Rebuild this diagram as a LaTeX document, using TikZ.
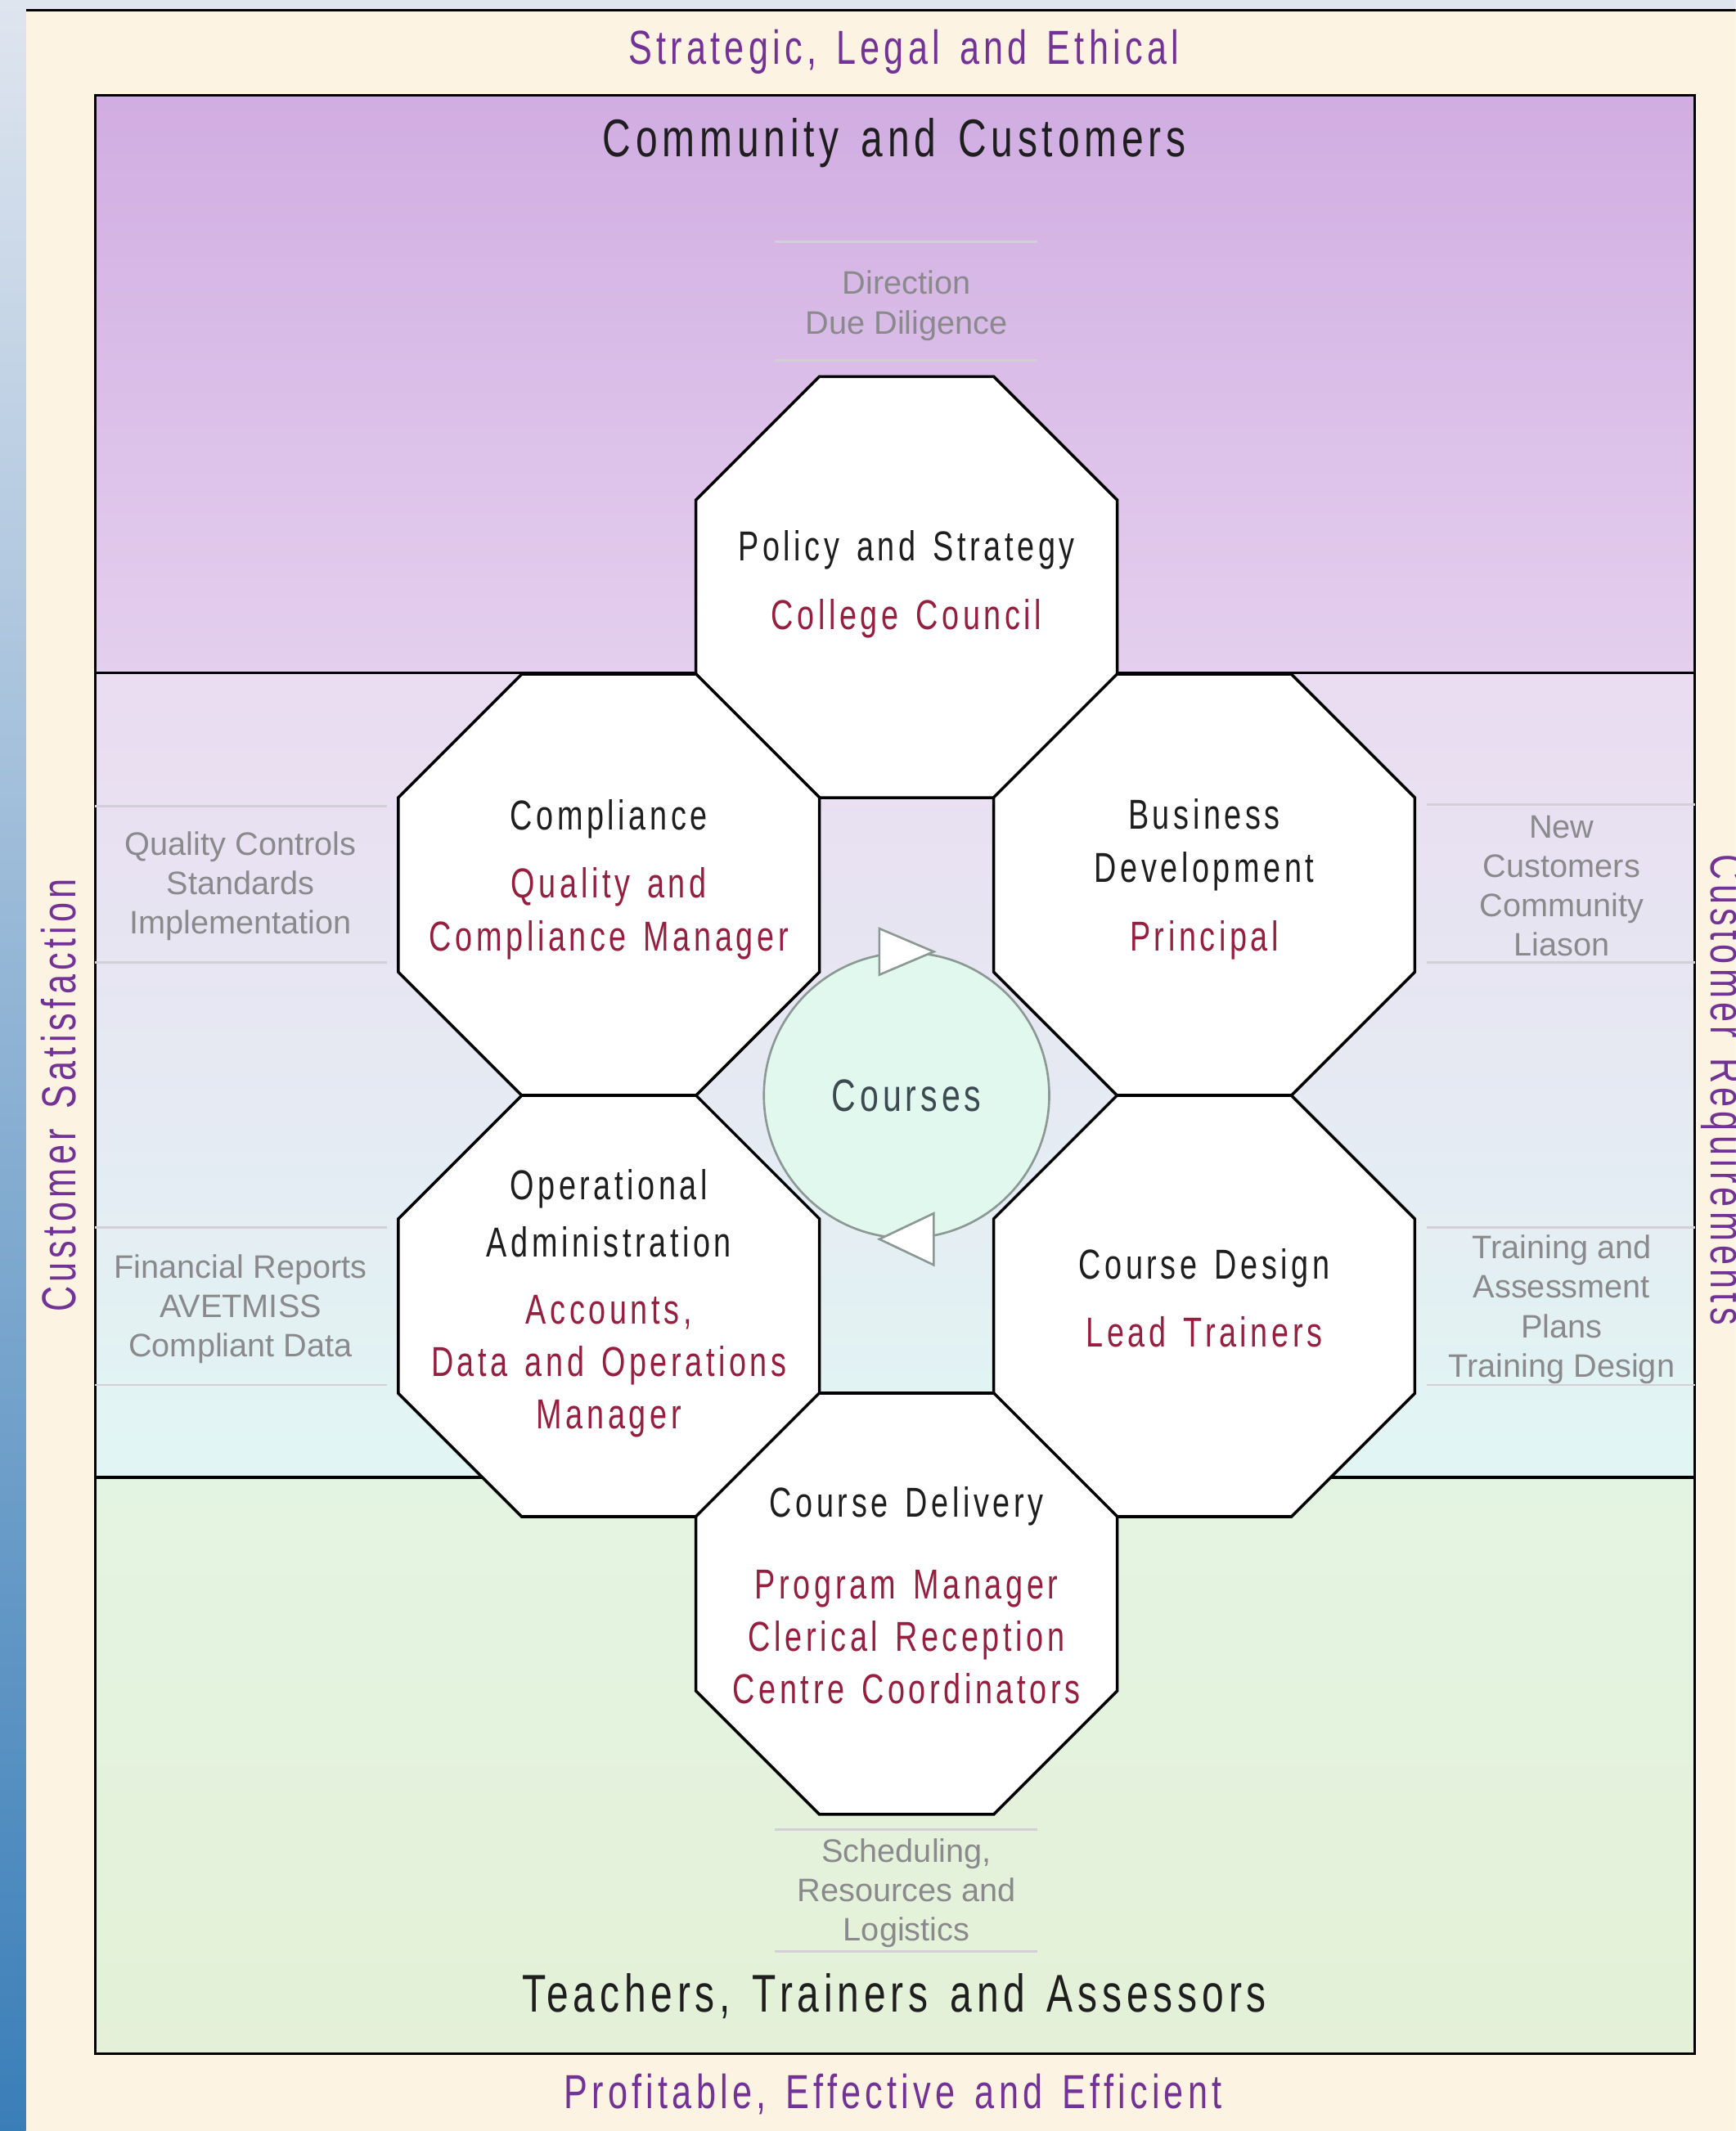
\documentclass[tikz,border=0pt]{standalone}
\usepackage{fontspec}
\setmainfont{Liberation Sans}
\newfontfamily\narrowfont{Liberation Sans}[FakeStretch=0.74,LetterSpace=9,WordSpace=1.4]
\usetikzlibrary{shapes.geometric}

\definecolor{paper}{RGB}{253,243,226}
\definecolor{edgepale}{RGB}{223,229,239}
\definecolor{edgemid}{RGB}{168,192,218}
\definecolor{edgeblue}{RGB}{58,126,184}
\definecolor{lilactop}{RGB}{209,173,226}
\definecolor{lilacbottom}{RGB}{228,207,238}
\definecolor{midtop}{RGB}{234,220,241}
\definecolor{midmid}{RGB}{236,238,244}
\definecolor{midbottom}{RGB}{225,246,244}
\definecolor{greentop}{RGB}{228,244,226}
\definecolor{greenbottom}{RGB}{228,241,216}
\definecolor{headline}{RGB}{114,50,150}
\definecolor{rolered}{RGB}{150,30,62}
\definecolor{ink}{RGB}{30,30,30}
\definecolor{notegray}{RGB}{138,138,140}
\definecolor{sepgray}{RGB}{210,208,214}
\definecolor{mint}{RGB}{224,248,238}
\definecolor{ringgray}{RGB}{140,152,148}
\definecolor{coursegray}{RGB}{62,74,82}

\newcommand{\roleline}[1]{\textcolor{rolered}{#1}}

\begin{document}
\begin{tikzpicture}[x=0.02cm,y=-0.02cm,
    oct/.style={regular polygon,regular polygon sides=8,minimum size=6.71cm,inner sep=0pt,outer sep=0pt,draw=black,fill=white,line width=1.2pt},
    octtext/.style={align=center,text=ink,font=\narrowfont\fontsize{17.5}{22}\selectfont},
    notes/.style={align=center,text=notegray,font=\fontsize{13.6}{16.5}\selectfont},
    sep/.style={draw=sepgray,line width=0.9pt},
    band/.style={text=headline,font=\narrowfont\fontsize{20}{24}\selectfont},
    group/.style={text=ink,font=\narrowfont\fontsize{22.2}{26}\selectfont},
    arrowhead/.style={draw=ringgray,fill=white,line width=0.9pt}]
    \clip (0,0) rectangle (1277,1568);
    \fill[paper] (0,0) rectangle (1277,1568);
    \fill[edgepale] (0,0) rectangle (1277,7);
    \shade[top color=edgepale,middle color=edgemid,bottom color=edgeblue] (0,0) rectangle (19,1568);
    \draw[line width=1.2pt] (19,7.5) -- (1277,7.5);

    \shade[top color=lilactop,bottom color=lilacbottom] (70,70) rectangle (1247,495);
    \shade[top color=midtop,middle color=midmid,bottom color=midbottom] (70,495) rectangle (1247,1087);
    \shade[top color=greentop,bottom color=greenbottom] (70,1087) rectangle (1247,1511);
    \draw[line width=1.2pt] (70,495) -- (1247,495) (70,1087) -- (1247,1087);
    \draw[line width=1.2pt] (70,70) rectangle (1247,1511);

    \draw[sep] (70,593) -- (285,593) (70,708) -- (285,708) (70,903) -- (285,903) (70,1019) -- (285,1019);
    \draw[sep] (1050,592) -- (1247,592) (1050,708) -- (1247,708) (1050,903) -- (1247,903) (1050,1019) -- (1247,1019);
    \draw[sep] (570,178) -- (763,178) (570,265) -- (763,265) (570,1346) -- (763,1346) (570,1436) -- (763,1436);
    \node[notes] (direction) at (667,225) {Direction\\Due Diligence};
    \node[notes] (quality) at (177,652) {Quality Controls\\Standards\\Implementation};
    \node[notes] (finance) at (177,963) {Financial Reports\\AVETMISS\\Compliant Data};
    \node[notes] (outreach) at (1149,652) {New\\Customers\\Community\\Liason};
    \node[notes] (planning) at (1149,963.5) {Training and\\Assessment\\Plans\\Training Design};
    \node[notes] (logistics) at (667,1393) {Scheduling,\\Resources and\\Logistics};

    \node[oct] (policy) at (667,432) {};
    \node[oct] (compliance) at (448,651) {};
    \node[oct] (business) at (886,651) {};
    \node[oct] (admin) at (448,961) {};
    \node[oct] (design) at (886,961) {};
    \node[oct] (delivery) at (667,1180) {};

    \node[octtext] (policytext) at ([yshift=1.2pt]policy) {Policy and Strategy\\[6.5pt]\roleline{College Council}};
    \node[octtext] (compliancetext) at ([yshift=2.2pt]compliance) {Compliance\\[6.5pt]\roleline{Quality and}\\\roleline{Compliance Manager}};
    \node[octtext] (businesstext) at ([yshift=2.2pt]business) {Business\\Development\\[7pt]\roleline{Principal}};
    \node[octtext] (admintext) at ([yshift=1pt]admin) {Operational\\[2pt]Administration\\[6pt]\roleline{Accounts,}\\\roleline{Data and Operations}\\\roleline{Manager}};
    \node[octtext] (designtext) at ([yshift=3.4pt]design) {Course Design\\[6.5pt]\roleline{Lead Trainers}};
    \node[octtext] (deliverytext) at ([yshift=3.4pt]delivery) {Course Delivery\\[12pt]\roleline{Program Manager}\\\roleline{Clerical Reception}\\\roleline{Centre Coordinators}};

    \node[circle,draw=ringgray,fill=mint,line width=0.9pt,minimum size=4.2cm,inner sep=0pt,text=coursegray,font=\narrowfont\fontsize{19}{22}\selectfont] (courses) at (667,806) {Courses};
    \draw[arrowhead] ([shift={(-20,-17)}]courses.north) -- ([shift={(20,0)}]courses.north) -- ([shift={(-20,17)}]courses.north) -- cycle;
    \draw[arrowhead] ([shift={(20,-19)}]courses.south) -- ([shift={(-20,0)}]courses.south) -- ([shift={(20,19)}]courses.south) -- cycle;

    \node[band] (ethos) at (665,38) {Strategic, Legal and Ethical};
    \node[group] (community) at (658,105) {Community and Customers};
    \node[group] (teachers) at (658,1469) {Teachers, Trainers and Assessors};
    \node[band] (outcome) at (657,1541) {Profitable, Effective and Efficient};
    \node[band,rotate=90] (satisfaction) at (43,806) {Customer Satisfaction};
    \node[band,rotate=-90] (requirements) at (1268,802) {Customer Requirements};
\end{tikzpicture}
\end{document}
